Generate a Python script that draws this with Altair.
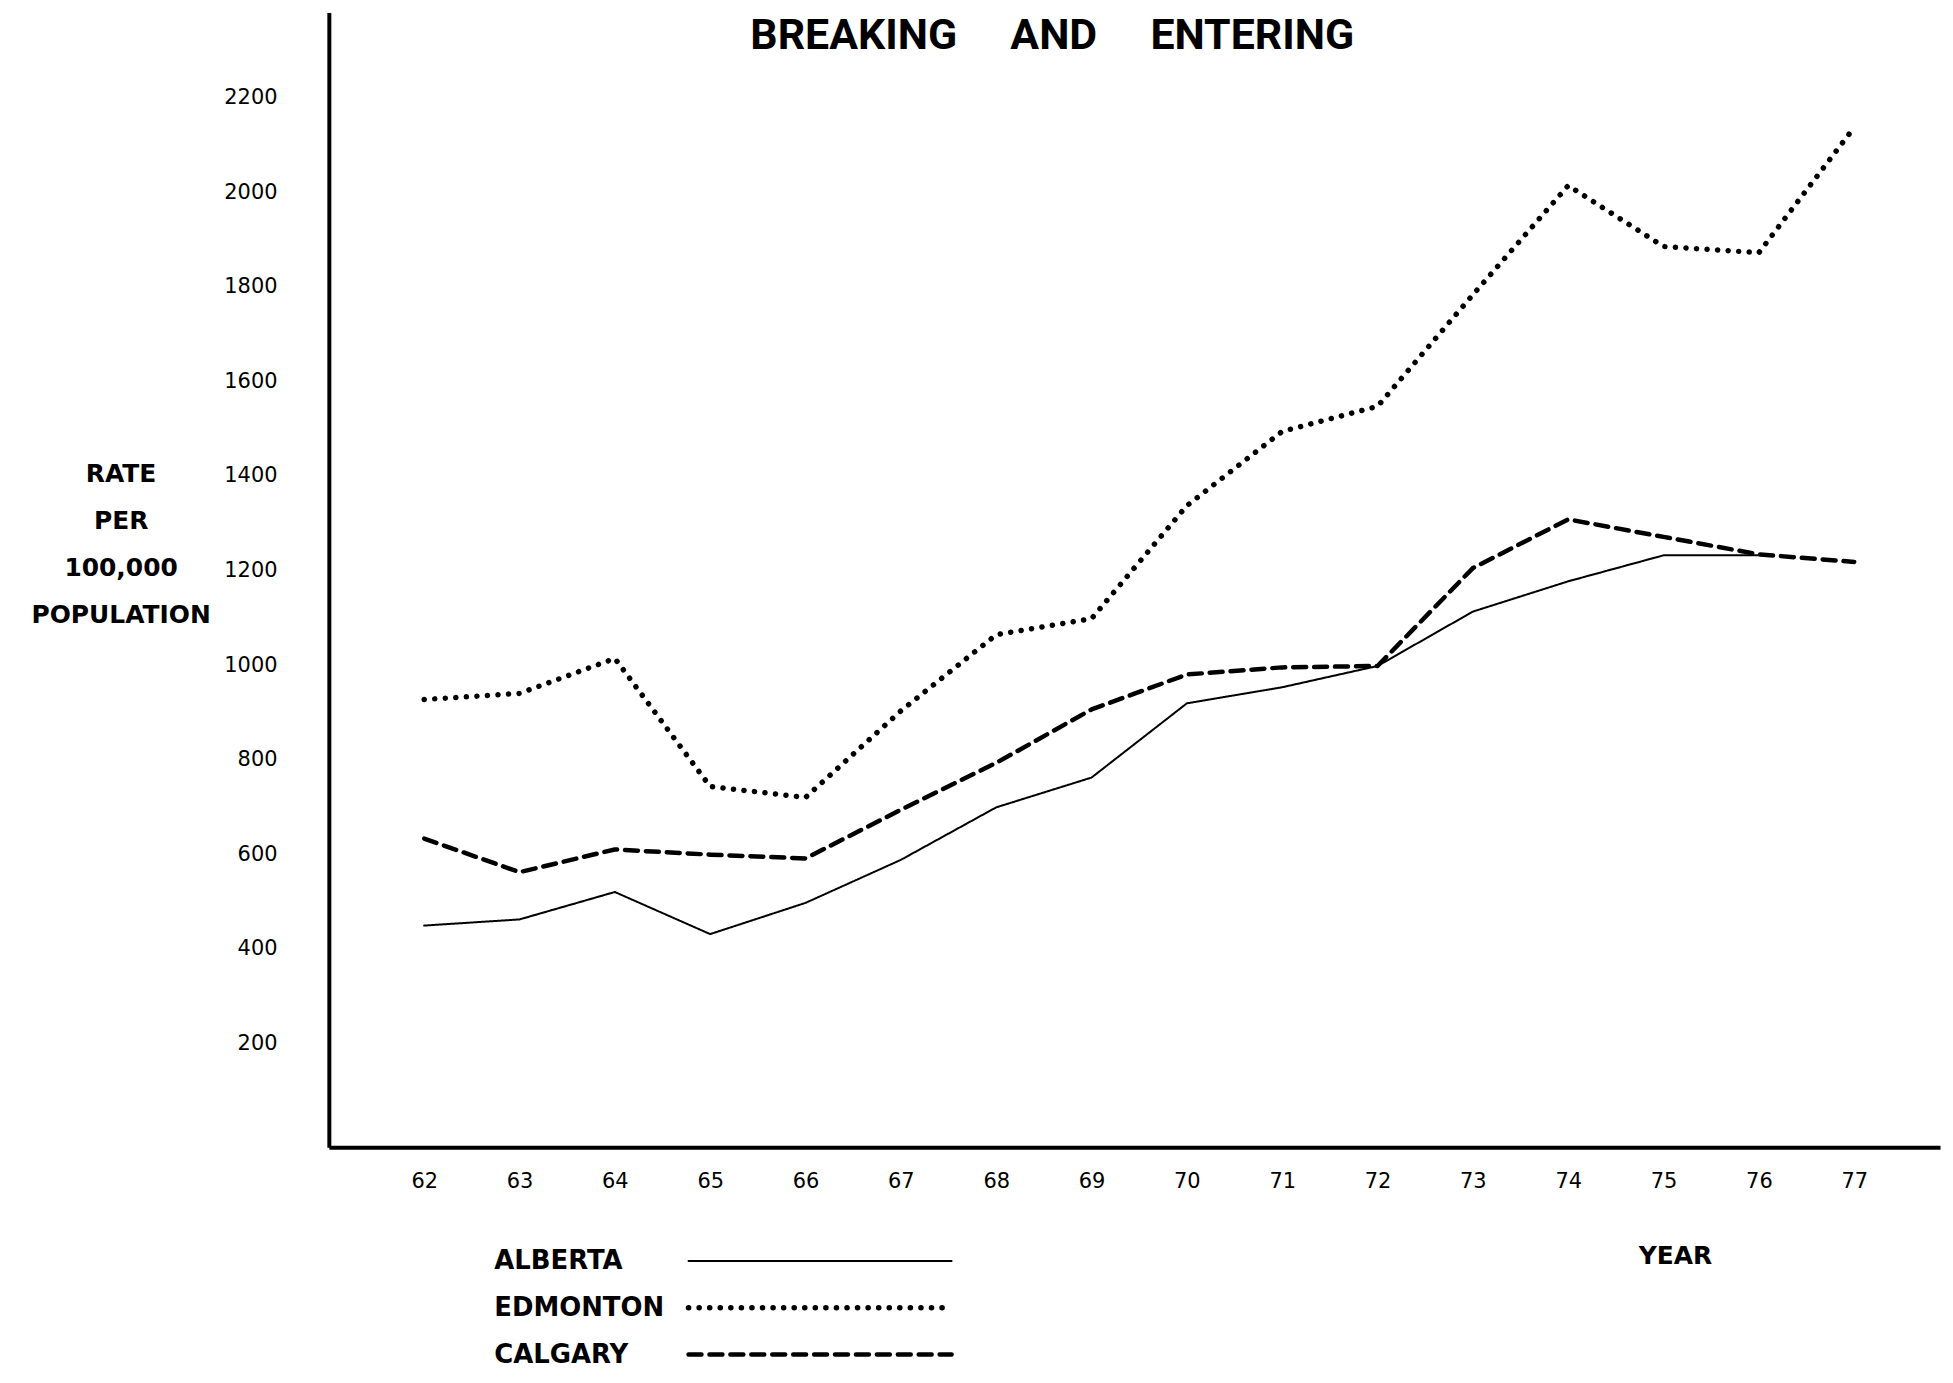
import altair as alt
import pandas as pd

years = [62, 63, 64, 65, 66, 67, 68, 69, 70, 71, 72, 73, 74, 75, 76, 77]
alberta = [449, 462, 520, 431, 497, 588, 699, 762, 919, 953, 998, 1113, 1177, 1232, 1232, None]
edmonton = [927, 940, 1014, 743, 720, 903, 1064, 1098, 1337, 1494, 1547, 1783, 2014, 1885, 1872, 2137]
calgary = [633, 562, 610, 599, 591, 694, 793, 906, 980, 995, 998, 1205, 1308, 1271, 1234, 1218]
series_names = ["ALBERTA", "EDMONTON", "CALGARY"]
y_ticks = [200, 400, 600, 800, 1000, 1200, 1400, 1600, 1800, 2000, 2200]
title_words = ["BREAKING", "AND", "ENTERING"]
y_title = ["RATE", "PER", "100,000", "POPULATION"]
x_title = "YEAR"

rows = []
for name, vals in zip(series_names, [alberta, edmonton, calgary]):
    for yr, v in zip(years, vals):
        if v is not None:
            rows.append({"year": yr, "rate": v, "series": name})
df = pd.DataFrame(rows)
legend_df = pd.DataFrame({"series": series_names})
gap = "\u00a0" * 5
title_df = pd.DataFrame({"t": [gap.join(title_words)]})

W, H = 1617, 1139
FONT = "DejaVu Sans"
BOLD = "DejaVu Sans"

dash_scale = alt.Scale(domain=series_names, range=[[1, 0], [0.1, 10.5], [13, 8]])
widths = {"ALBERTA": 2, "EDMONTON": 5.5, "CALGARY": 4.5}

x_enc = alt.X("year:Q", scale=alt.Scale(domain=[61, 77.9], nice=False, zero=False),
              axis=alt.Axis(values=years, format="d", title=x_title, titleX=1351, titleY=109,
                            titleAlign="center", titleBaseline="middle", titleFontSize=25,
                            titleFontWeight="bold", titleFont=BOLD, ticks=False, grid=False,
                            domainColor="black", domainWidth=4, labelFontSize=21,
                            labelFont=FONT, labelColor="black", labelPadding=23))
y_enc = alt.Y("rate:Q", scale=alt.Scale(domain=[-20, 2380], nice=False, zero=False),
              axis=alt.Axis(values=y_ticks, format="d", title=y_title, titleAngle=0,
                            titleX=-209, titleY=451, titleAlign="center", titleBaseline="top",
                            titleLineHeight=47, titleFontSize=25, titleFontWeight="bold",
                            titleFont=BOLD, ticks=False, grid=False, domainColor="black",
                            domainWidth=4, labelFontSize=21, labelFont=FONT,
                            labelColor="black", labelPadding=52))

legend_y = alt.Y("series:N", scale=alt.Scale(type="point", domain=series_names,
                                              range=[1253, 1347], padding=0), axis=None)

layers = []
for i, name in enumerate(series_names):
    enc = dict(x=x_enc, y=y_enc) if i == 0 else dict(x="year:Q", y="rate:Q")
    layers.append(
        alt.Chart(df).transform_filter(alt.datum.series == name)
        .mark_line(color="black", strokeCap="round", strokeJoin="round",
                   strokeWidth=widths[name])
        .encode(strokeDash=alt.StrokeDash("series:N", scale=dash_scale, legend=None), **enc)
    )

legend_text = alt.Chart(legend_df).mark_text(
    align="left", baseline="middle", fontSize=26, fontWeight="bold", font=BOLD, color="black"
).encode(x=alt.value(166), y=legend_y, text="series:N")

legend_layers = []
for name in series_names:
    legend_layers.append(
        alt.Chart(legend_df).transform_filter(alt.datum.series == name)
        .mark_rule(color="black", strokeCap="round", strokeWidth=widths[name])
        .encode(x=alt.value(361), x2=alt.value(625), y=legend_y,
                strokeDash=alt.StrokeDash("series:N", scale=dash_scale, legend=None))
    )

title = alt.Chart(title_df).mark_text(
    align="center", baseline="middle", fontSize=43, fontWeight="bold",
    font="Roboto", color="black"
).encode(x=alt.value(726), y=alt.value(24), text="t:N")

main = alt.layer(*layers)
overlay = alt.layer(legend_text, *legend_layers, title)

chart = alt.layer(main, overlay).resolve_scale(
    y="independent"
).properties(
    width=W, height=H,
    autosize=alt.AutoSizeParams(type="none"),
    padding={"left": 322, "top": 2, "right": 5, "bottom": 228},
    background="white",
).configure_view(stroke=None)

chart.save("out.html", embed_options={"renderer": "svg", "actions": False})
